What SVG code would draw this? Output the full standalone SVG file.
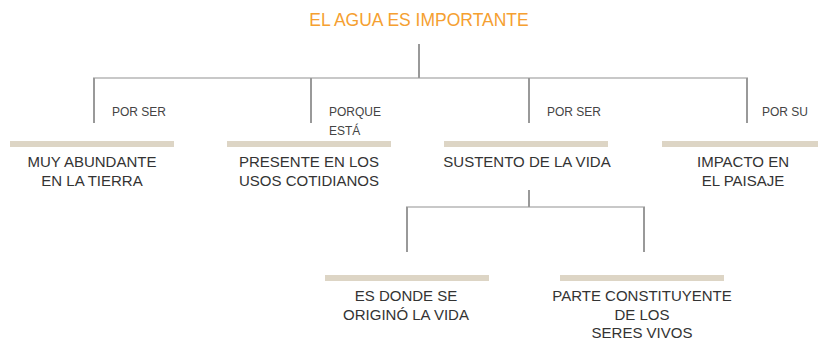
<svg xmlns="http://www.w3.org/2000/svg" width="818" height="340" viewBox="0 0 818 340">
<style>
.t{font-family:"Liberation Sans",Arial,sans-serif;font-size:15px;fill:#333;text-anchor:middle}
.l{font-family:"Liberation Sans",Arial,sans-serif;font-size:12px;fill:#444}
.h{stroke:#c8c8c8;stroke-width:2;fill:none}
.v{stroke:#999;stroke-width:2;fill:none}
.bar{fill:#ddd5c5}
</style>
<rect width="818" height="340" fill="#fff"/>
<g id="connectors">
<line class="h" x1="93" y1="78" x2="748" y2="78"/>
<line class="v" x1="419" y1="44" x2="419" y2="78"/>
<line class="v" x1="94" y1="78" x2="94" y2="123"/>
<line class="v" x1="311" y1="78" x2="311" y2="123"/>
<line class="v" x1="529" y1="78" x2="529" y2="123"/>
<line class="v" x1="747" y1="78" x2="747" y2="123"/>
<line class="h" x1="406" y1="207" x2="645" y2="207"/>
<line class="v" x1="529" y1="190" x2="529" y2="207"/>
<line class="v" x1="407" y1="207" x2="407" y2="252"/>
<line class="v" x1="644" y1="207" x2="644" y2="252"/>
<text class="l" x="112" y="116">POR SER</text>
<text class="l" x="329" y="116">PORQUE</text>
<text class="l" x="329" y="135">ESTÁ</text>
<text class="l" x="547" y="116">POR SER</text>
<text class="l" x="762" y="116">POR SU</text>
</g>
<g id="root">
<text x="419" y="26" style="font-family:'Liberation Sans',Arial,sans-serif;font-size:17.5px;fill:#f5a030;text-anchor:middle">EL AGUA ES IMPORTANTE</text>
</g>
<g id="n1">
<rect class="bar" x="10" y="141" width="164" height="6"/>
<text class="t" x="92" y="167">MUY ABUNDANTE</text>
<text class="t" x="92" y="186">EN LA TIERRA</text>
</g>
<g id="n2">
<rect class="bar" x="227" y="141" width="164" height="6"/>
<text class="t" x="309" y="167">PRESENTE EN LOS</text>
<text class="t" x="309" y="186">USOS COTIDIANOS</text>
</g>
<g id="n3">
<rect class="bar" x="444" y="141" width="164" height="6"/>
<text class="t" x="527" y="167">SUSTENTO DE LA VIDA</text>
</g>
<g id="n4">
<rect class="bar" x="662" y="141" width="164" height="6"/>
<text class="t" x="743" y="167">IMPACTO EN</text>
<text class="t" x="743" y="186">EL PAISAJE</text>
</g>
<g id="n5">
<rect class="bar" x="325" y="275" width="164" height="6"/>
<text class="t" x="406" y="301">ES DONDE SE</text>
<text class="t" x="406" y="320">ORIGINÓ LA VIDA</text>
</g>
<g id="n6">
<rect class="bar" x="560" y="275" width="164" height="6"/>
<text class="t" x="642" y="301">PARTE CONSTITUYENTE</text>
<text class="t" x="642" y="320">DE LOS</text>
<text class="t" x="642" y="338">SERES VIVOS</text>
</g>
</svg>
